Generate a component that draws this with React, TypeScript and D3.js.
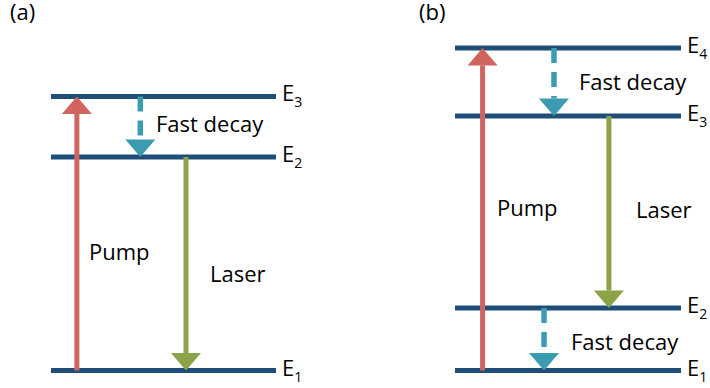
import React from "react";
import * as d3 from "d3";

// Panel (a): three-level system
const levelsA = [
  { name: "1", energy: 0 },
  { name: "2", energy: 0.662 },
  { name: "3", energy: 0.85 },
];
// Panel (b): four-level system
const levelsB = [
  { name: "1", energy: 0 },
  { name: "2", energy: 0.194 },
  { name: "3", energy: 0.789 },
  { name: "4", energy: 1.0 },
];

// transitions: from level, to level, horizontal position (fraction of level width)
const transitionsA = [
  { kind: "pump", from: 0, to: 0.85, pos: 0.115, label: "Pump" },
  { kind: "decay", from: 0.85, to: 0.662, pos: 0.397, label: "Fast decay" },
  { kind: "laser", from: 0.662, to: 0, pos: 0.6, label: "Laser" },
];
const transitionsB = [
  { kind: "pump", from: 0, to: 1.0, pos: 0.122, label: "Pump" },
  { kind: "decay", from: 1.0, to: 0.789, pos: 0.438, label: "Fast decay" },
  { kind: "laser", from: 0.789, to: 0.194, pos: 0.681, label: "Laser" },
  { kind: "decay", from: 0.194, to: 0, pos: 0.394, label: "Fast decay" },
];

const panelTitles = ["(a)", "(b)"];

const COLORS: Record<string, string> = {
  pump: "#d0655f",
  decay: "#3a9bb1",
  laser: "#8ca34a",
  level: "#1f4e79",
};
const FONT = "'Open Sans', sans-serif";

const y = d3.scaleLinear().domain([0, 1]).range([370.5, 48]);

type Trans = { kind: string; from: number; to: number; pos: number; label: string };

function Arrow({ t, x }: { t: Trans; x: d3.ScaleLinear<number, number> }) {
  const cx = x(t.pos);
  const y0 = y(t.from);
  const y1 = y(t.to);
  const dir = y1 < y0 ? -1 : 1; // -1 up
  const headH = 17.5;
  const headW = 15;
  const base = y1 - dir * headH;
  const color = COLORS[t.kind];
  const tri = d3.line()([
    [cx - headW, base],
    [cx + headW, base],
    [cx, y1],
  ]) + "Z";
  return (
    <g>
      <line
        x1={cx}
        x2={cx}
        y1={y0}
        y2={base}
        stroke={color}
        strokeWidth={t.kind === "decay" ? 5.5 : 5}
        strokeDasharray={t.kind === "decay" ? "15 9" : undefined}
      />
      <path d={tri} fill={color} />
    </g>
  );
}

function Panel({
  levels,
  transitions,
  range,
  title,
  titleX,
  labels,
}: {
  levels: { name: string; energy: number }[];
  transitions: Trans[];
  range: [number, number];
  title: string;
  titleX: number;
  labels: { x: number; y: number }[];
}) {
  const x = d3.scaleLinear().domain([0, 1]).range(range);
  return (
    <g>
      <text x={titleX} y={20} fontFamily={FONT} fontSize={22} fill="#000">
        {title}
      </text>
      {levels.map((l) => (
        <g key={l.name}>
          <line
            x1={x(0)}
            x2={x(1)}
            y1={y(l.energy)}
            y2={y(l.energy)}
            stroke={COLORS.level}
            strokeWidth={5}
          />
          <text
            x={x(1) + 6}
            y={y(l.energy) + 5}
            fontFamily={FONT}
            fontSize={22}
            fill="#000"
          >
            E
            <tspan fontSize={14} dy={6}>
              {l.name}
            </tspan>
          </text>
        </g>
      ))}
      {transitions.map((t, i) => (
        <Arrow key={i} t={t} x={x} />
      ))}
      {transitions.map((t, i) => (
        <text
          key={"l" + i}
          x={labels[i].x}
          y={labels[i].y}
          fontFamily={FONT}
          fontSize={22}
          fill="#000"
        >
          {t.label}
        </text>
      ))}
    </g>
  );
}

export default function App() {
  return (
    <svg
      width={710}
      height={388}
      style={{ position: "absolute", left: 0, top: 0, background: "#fff" }}
    >
      <rect width={710} height={388} fill="#fff" />
      <Panel
        levels={levelsA}
        transitions={transitionsA}
        range={[51, 276]}
        title={panelTitles[0]}
        titleX={10}
        labels={[
          { x: 89, y: 260 },
          { x: 156, y: 132 },
          { x: 210, y: 282 },
        ]}
      />
      <Panel
        levels={levelsB}
        transitions={transitionsB}
        range={[455, 681]}
        title={panelTitles[1]}
        titleX={419}
        labels={[
          { x: 497, y: 216 },
          { x: 579, y: 90 },
          { x: 636, y: 218 },
          { x: 571, y: 350 },
        ]}
      />
    </svg>
  );
}
